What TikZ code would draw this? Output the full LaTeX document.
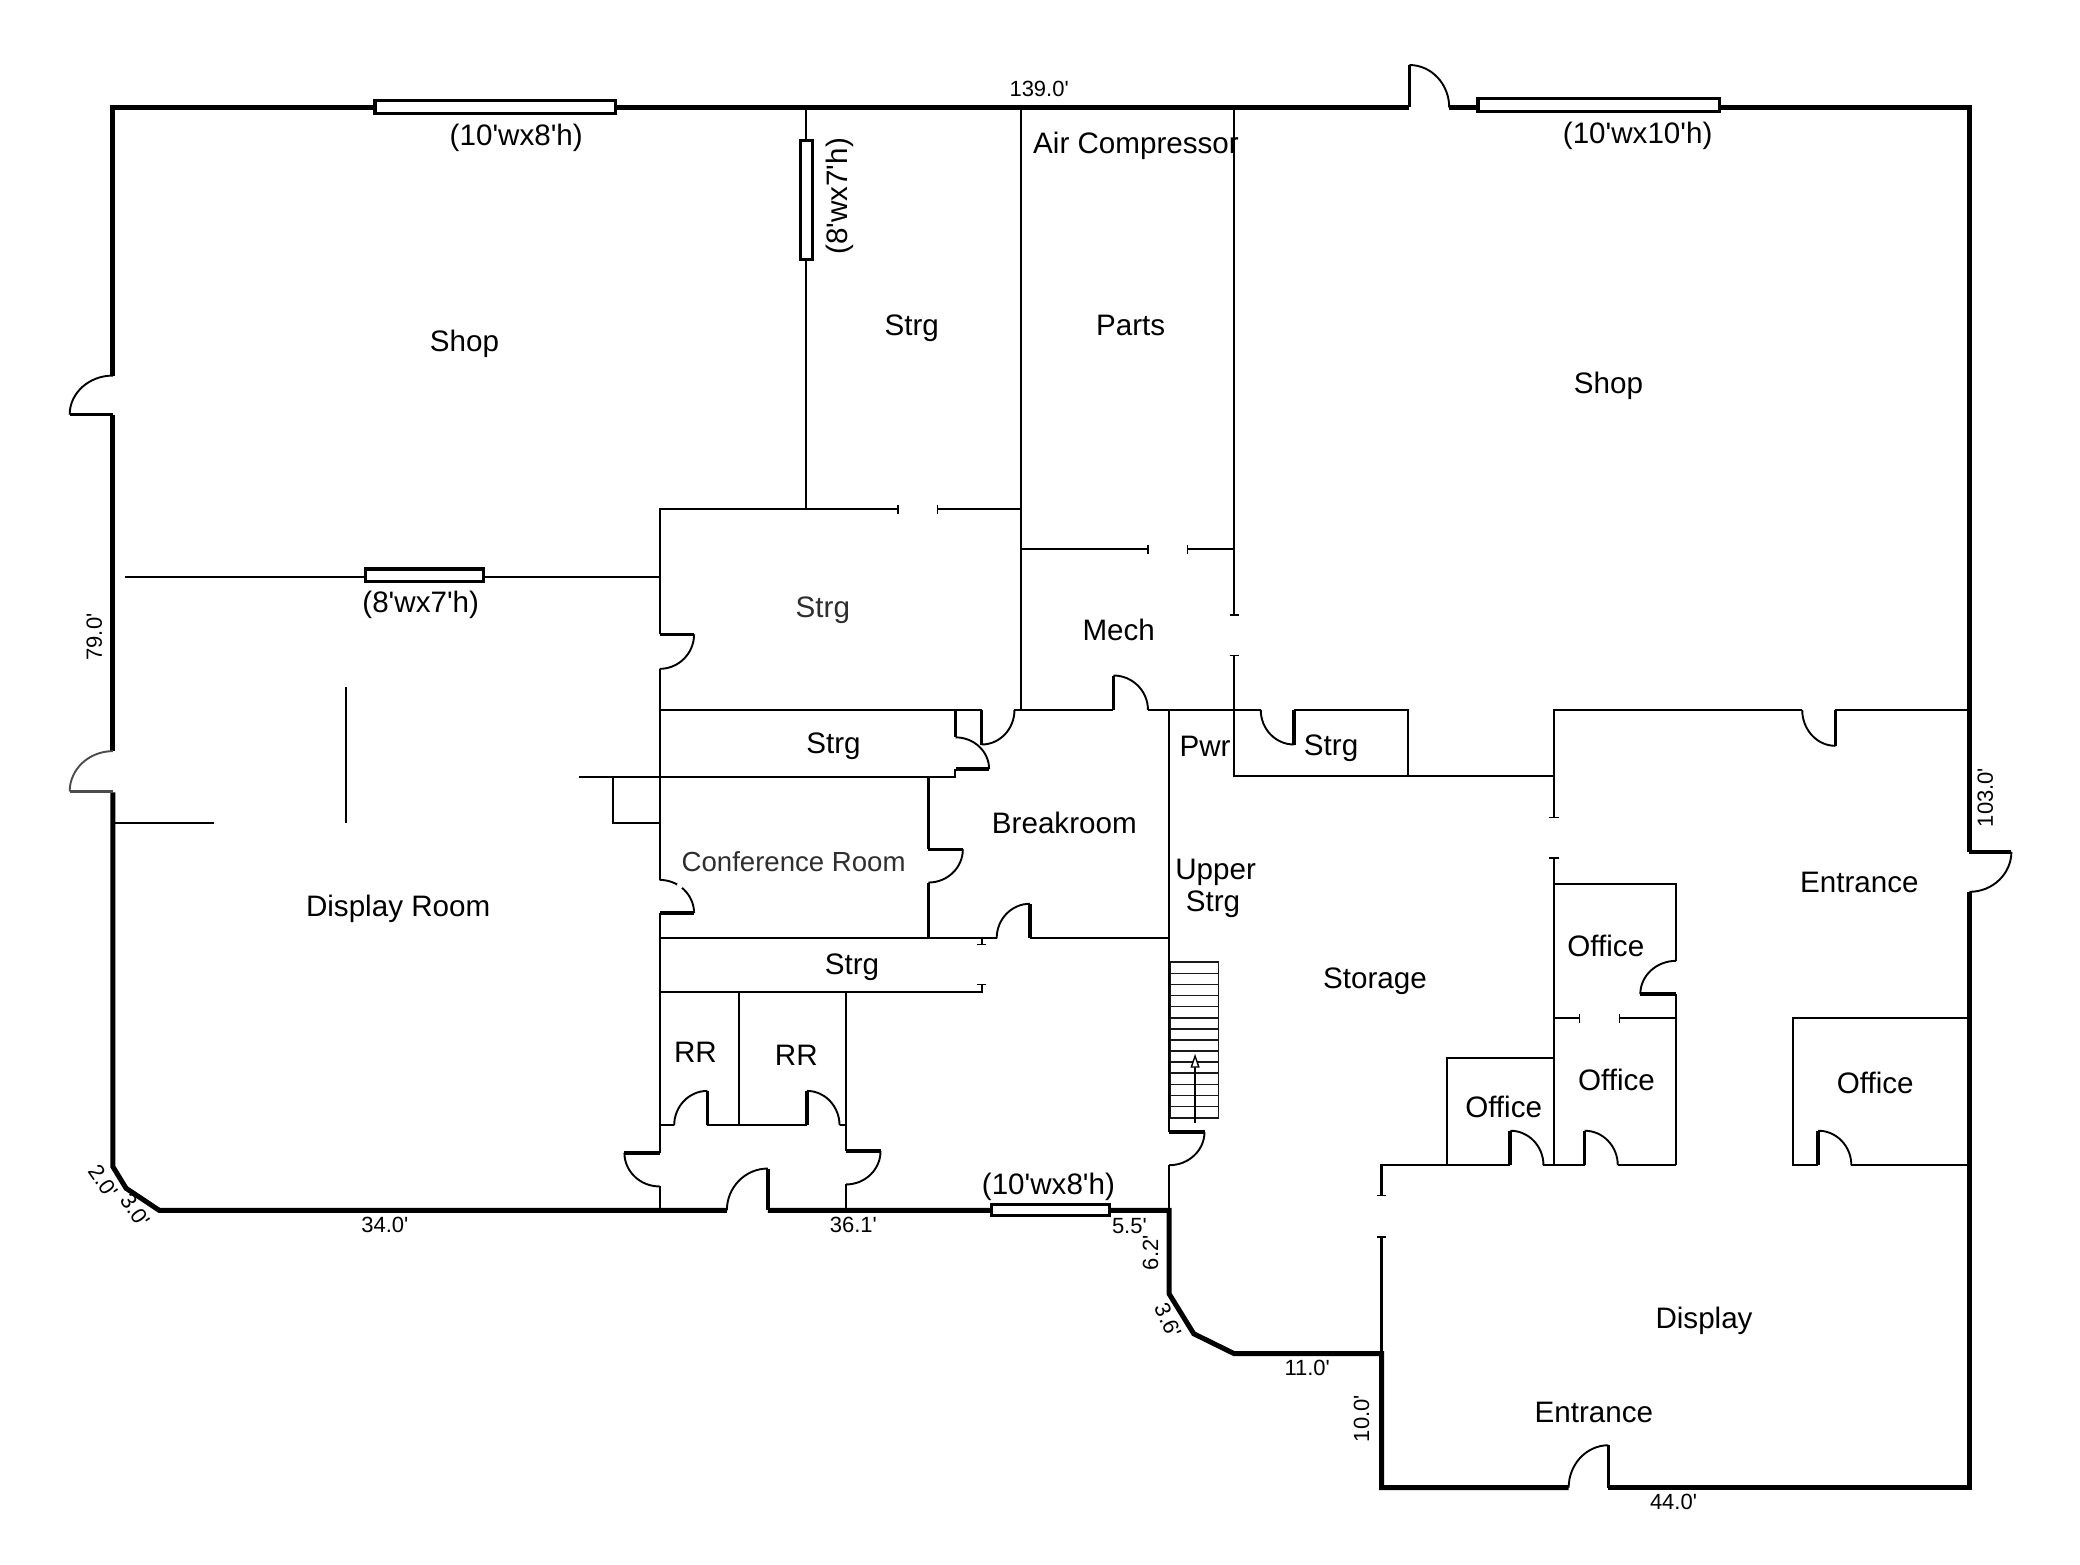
\documentclass[tikz,border=0pt]{standalone}
\usepackage{fontspec}
\setmainfont{Liberation Sans}
\usetikzlibrary{calc,arrows.meta}
\newcommand{\q}{\textquotesingle}
\tikzset{
  wall/.style={line width=1.05pt,black,line cap=butt,line join=miter},
  outer/.style={line width=2.5pt,black,line cap=butt,line join=miter},
  win/.style={draw=black,fill=white,line width=1.6pt},
  leafline/.style={line width=1.8pt,line cap=butt},
  swing/.style={line width=.95pt},
  stairline/.style={line width=.75pt,draw=black!90},
  room/.style={font=\fontsize{14.8}{14.8}\selectfont,inner sep=0pt},
  dim/.style={font=\fontsize{11}{11}\selectfont,inner sep=0pt},
  soft/.style={text=black!82},
}
\newcommand{\doorswing}[7][black]{%
  \coordinate (H) at (#2,#3);\coordinate (L) at (#4,#5);\coordinate (S) at (#6,#7);
  \draw[leafline,#1] (H) -- (L);
  \draw[swing,#1] (L) .. controls ($(L)+0.5523*(S)-0.5523*(H)$) and ($(S)+0.5523*(L)-0.5523*(H)$) .. (S);
}
\newcommand{\htick}[2]{\draw[line width=.7pt] (#1-3.5,#2) -- (#1+3.5,#2);}
\newcommand{\vtick}[2]{\draw[line width=.7pt] (#1,#2-3.5) -- (#1,#2+3.5);}
\begin{document}
\begin{tikzpicture}[x=0.66355pt,y=-0.66355pt]
\useasboundingbox (0,0) rectangle (1567.3,1178.5);
% outer walls
\draw[outer] (85,283) -- (85,81) -- (1062,81);
\draw[outer] (1092,81) -- (1484,81) -- (1484,642);
\draw[outer] (1484,672) -- (1484,1121) -- (1212,1121);
\draw[outer] (1182,1121) -- (1041,1121) -- (1041,1020) -- (930,1020) -- (899.5,1005) -- (881,975) -- (881,912) -- (578.6,912);
\draw[outer] (547.7,912) -- (120,912) -- (95,895.4) -- (85,879) -- (85,597);
\draw[outer] (85,566) -- (85,313);
% interior walls
\draw[wall] (607,81) -- (607,383.7);
\draw[wall] (769,81) -- (769,535);
\draw[wall] (930,81) -- (930,463.5);
\draw[wall] (930,494) -- (930,585) -- (1171,585);
\draw[wall] (497,478) -- (497,383.7) -- (676.5,383.7);
\draw[wall] (706.5,383.7) -- (769,383.7);
\draw[wall] (769,414) -- (865,414);
\draw[wall] (895,414) -- (930,414);
\draw[wall] (94,434.6) -- (497,434.6);
\draw[wall] (497,504) -- (497,663);
\draw[wall] (497,688) -- (497,868.7);
\draw[wall] (497,894) -- (497,912);
\draw[wall] (261,518) -- (261,620);
\draw[wall] (85,620) -- (161,620);
\draw[wall] (462,585.3) -- (462,620) -- (497,620);
\draw[wall] (436,585.3) -- (719.3,585.3) -- (719.3,579.5);
\draw[wall] (497,535) -- (739.7,535);
\draw[wall] (720,555.6) -- (720,535);
\draw[wall] (764.4,535) -- (839,535);
\draw[wall] (865,535) -- (950,535);
\draw[wall] (975,535) -- (1061,535) -- (1061,585);
\draw[wall] (881,535) -- (881,853);
\draw[wall] (881,878) -- (881,912);
\draw[wall] (1171,616) -- (1171,535) -- (1358,535);
\draw[wall] (1383,535) -- (1484,535);
\draw[wall] (699.6,585.3) -- (699.6,640);
\draw[wall] (699.6,665) -- (699.6,707);
\draw[wall] (497,707) -- (751,707);
\draw[wall] (776,707) -- (881,707);
\draw[wall] (739.7,707) -- (739.7,711.7);
\draw[wall] (497,747.6) -- (739.7,747.6) -- (739.7,742);
\draw[wall] (557,747.6) -- (557,848);
\draw[wall] (637.5,747.6) -- (637.5,867.4);
\draw[wall] (637.5,892.5) -- (637.5,912);
\draw[wall] (497,848) -- (508,848);
\draw[wall] (533,848) -- (608,848);
\draw[wall] (632.6,848) -- (637.5,848);
\draw[wall] (1171,646.6) -- (1171,878);
\draw[wall] (1171,666) -- (1263,666) -- (1263,724);
\draw[wall] (1263,749) -- (1263,878);
\draw[wall] (1171,767.3) -- (1190,767.3);
\draw[wall] (1220.3,767.3) -- (1263,767.3);
\draw[wall] (1090,878) -- (1090,797.4) -- (1171,797.4);
\draw[wall] (1041,901) -- (1041,878) -- (1138,878);
\draw[wall] (1163,878) -- (1194,878);
\draw[wall] (1219,878) -- (1263,878);
\draw[wall] (1370,878) -- (1351,878) -- (1351,767.3) -- (1484,767.3);
\draw[wall] (1395,878) -- (1484,878);
\draw[wall] (1041,932) -- (1041,1020);
% wall-end ticks
\vtick{676.5}{383.7}\vtick{706.5}{383.7}
\vtick{865}{414}\vtick{895}{414}
\htick{930}{463.5}\htick{930}{494}
\htick{739.7}{711.7}\htick{739.7}{742}
\htick{1171}{616}\htick{1171}{646.6}
\vtick{1190}{767.3}\vtick{1220.3}{767.3}
\htick{1041}{901}\htick{1041}{932}
% windows
\draw[win] (282.5,76) rectangle (464,85.8);
\draw[win] (1113.7,74.5) rectangle (1295.4,84);
\draw[win] (603,106) rectangle (612.5,195.6);
\draw[win] (275.5,428.7) rectangle (364.5,438.2);
\draw[win] (747,907.5) rectangle (836,916);
% doors
\doorswing{1062}{81}{1062}{49}{1092}{81}
\doorswing{85}{312.4}{52.5}{312.4}{85}{283}
\doorswing[black!70]{85}{596.4}{52.5}{596.4}{85}{566}
\doorswing{497}{478}{523}{478}{497}{504}
\doorswing{720}{579.5}{745.3}{579.5}{720}{555.6}
\doorswing{739.7}{535}{739.7}{561}{764.4}{535}
\doorswing{839}{535}{839}{509}{865}{535}
\doorswing{975}{535}{975}{561}{950}{535}
\doorswing{1383}{535}{1383}{562}{1358}{535}
\doorswing{497}{688}{523}{688}{497}{663}
\draw[white,line width=1.6pt] (510.6,666) -- (513.7,669);
\doorswing{699.6}{640}{725.5}{640}{699.6}{665}
\doorswing{776}{707}{776}{681}{751}{707}
\doorswing{533}{848}{533}{822}{508}{848}
\doorswing{608}{848}{608}{822}{632.6}{848}
\doorswing{497}{868.7}{470.5}{868.7}{497}{894}
\doorswing{637.5}{867.4}{663.5}{867.4}{637.5}{892.5}
\doorswing{578.6}{912}{578.6}{880.5}{547.7}{912}
\doorswing{881}{853}{907.6}{853}{881}{878}
\doorswing{1263}{749}{1236}{749}{1263}{724}
\doorswing{1138}{878}{1138}{852}{1163}{878}
\doorswing{1194}{878}{1194}{852}{1219}{878}
\doorswing{1370}{878}{1370}{852}{1395}{878}
\doorswing{1484}{641.8}{1515.6}{641.8}{1484}{672}
\doorswing{1212}{1121}{1212}{1089}{1182}{1121}
% stairs
\draw[stairline] (882,725) rectangle (918,842.3);
\foreach \yy in {733.4,741.8,750.1,758.5,766.9,775.2,783.6,792,800.3,808.7,817.1,825.4,833.8}
  \draw[stairline] (882,\yy) -- (918,\yy);
\draw[line width=.7pt,-{Triangle[open,length=7pt,width=4.5pt,fill=white]}] (900.5,846) -- (900.5,794);
% room labels
\node[room] (shopw) at (350,259) {Shop};
\node[room] (shope) at (1212,291) {Shop};
\node[room] (strga) at (687,247) {Strg};
\node[room] (parts) at (852,245) {Parts};
\node[room] (aircomp) at (856,110) {Air Compressor};
\node[room,soft] (strgb) at (620,460) {Strg};
\node[room] (mech) at (843,475) {Mech};
\node[room] (strgc) at (628,562) {Strg};
\node[room] (pwr) at (908,562) {Pwr};
\node[room] (strgd) at (1003,564) {Strg};
\node[room] (breakroom) at (802,620) {Breakroom};
\node[room,soft,font=\fontsize{13.8}{13.8}\selectfont] (conf) at (598,649) {Conference Room};
\node[room] (upper) at (916,657) {Upper};
\node[room] (upperstrg) at (914,681) {Strg};
\node[room] (entrancee) at (1401,665) {Entrance};
\node[room] (displayroom) at (300,685) {Display Room};
\node[room] (officea) at (1210,713) {Office};
\node[room] (strge) at (642,729) {Strg};
\node[room] (storage) at (1036,739) {Storage};
\node[room] (rra) at (524,793) {RR};
\node[room] (rrb) at (600,795) {RR};
\node[room] (officeb) at (1218,814) {Office};
\node[room] (officec) at (1413,816) {Office};
\node[room] (officed) at (1133,834) {Office};
\node[room] (display) at (1284,995) {Display};
\node[room] (entrances) at (1201,1064) {Entrance};
% window labels
\node[room] (wla) at (389,104) {(10\q{}wx8\q{}h)};
\node[room] (wlb) at (1234,102) {(10\q{}wx10\q{}h)};
\node[room,rotate=90] (wlc) at (633,148) {(8\q{}wx7\q{}h)};
\node[room] (wld) at (317,456) {(8\q{}wx7\q{}h)};
\node[room] (wle) at (790,894) {(10\q{}wx8\q{}h)};
% dimensions
\node[dim] (da) at (783,67) {139.0\q{}};
\node[dim,rotate=90] (db) at (71,480) {79.0\q{}};
\node[dim,rotate=90] (dc) at (1496,601) {103.0\q{}};
\node[dim,rotate=-55] (dd) at (78,890) {2.0\q{}};
\node[dim,rotate=-55] (de) at (102,912) {3.0\q{}};
\node[dim] (df) at (290,923) {34.0\q{}};
\node[dim] (dg) at (643,923) {36.1\q{}};
\node[dim] (dh) at (851,924) {5.5\q{}};
\node[dim,rotate=90] (di) at (867,944) {6.2\q{}};
\node[dim,rotate=-65] (dj) at (880,995) {3.6\q{}};
\node[dim] (dk) at (985,1031) {11.0\q{}};
\node[dim,rotate=90] (dl) at (1026,1069) {10.0\q{}};
\node[dim] (dm) at (1261,1132) {44.0\q{}};
\end{tikzpicture}
\end{document}
